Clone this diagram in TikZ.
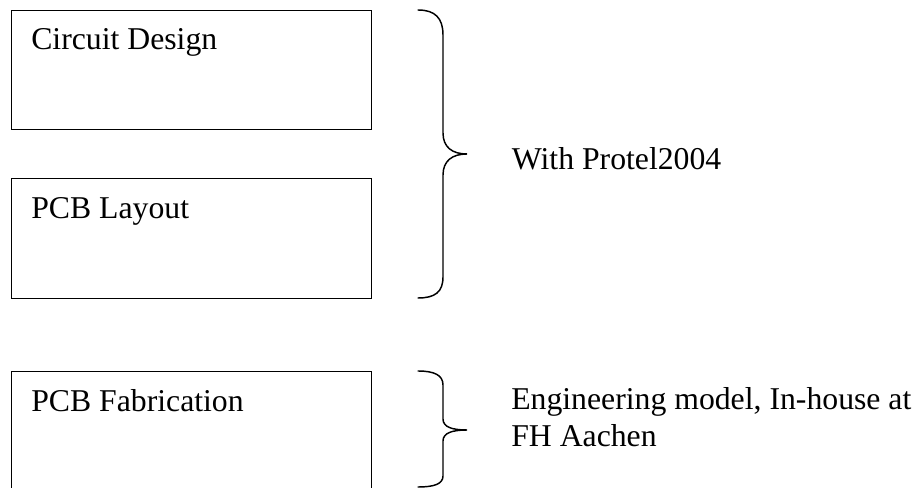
\documentclass[tikz,border=0pt]{standalone}
\usepackage{fontspec}
\setmainfont{Liberation Serif}
\begin{document}
\begin{tikzpicture}[x=0.75pt,y=-0.75pt,
  box/.style={draw=black, line width=1.1pt, anchor=north west, inner sep=0pt, minimum width=270.2pt},
  lbl/.style={anchor=base west, inner sep=0pt, font=\fontsize{23.8}{27.5}\selectfont},
  brace/.style={draw=black, line width=1.1pt, line cap=round}]
\useasboundingbox (0,0) rectangle (918,488);
\clip (0,0) rectangle (918,488);
% boxes
\node[box, minimum height=89.25pt] (b1) at (10.7,10) {};
\node[box, minimum height=90pt] (b2) at (10.7,178) {};
\node[box, minimum height=100pt] (b3) at (10.7,370.7) {};
% box texts
\node[lbl] (t1) at (31,50) {Circuit Design};
\node[lbl] (t2) at (31,218.3) {PCB Layout};
\node[lbl] (t3) at (31,411.7) {PCB Fabrication};
% braces
\draw[brace] (418,10) .. controls (435,10) and (443,18) .. (443,35) -- (443,133)
  .. controls (443,147) and (452,154) .. (467,154)
  .. controls (452,154) and (443,161) .. (443,175) -- (443,277)
  .. controls (443,292) and (435,298) .. (418,298);
\draw[brace] (418,371) .. controls (434,371) and (443,375) .. (443,385) -- (443,419)
  .. controls (443,427) and (452,430) .. (467,430)
  .. controls (452,430) and (443,433) .. (443,441) -- (443,476)
  .. controls (443,484) and (434,487) .. (418,487);
% side texts
\node[lbl] (w1) at (511.7,170) {With Protel2004};
\node[lbl] (w2) at (511,410) {Engineering model, In-house at};
\node[lbl] (w3) at (511,446.7) {FH Aachen};
\end{tikzpicture}
\end{document}
